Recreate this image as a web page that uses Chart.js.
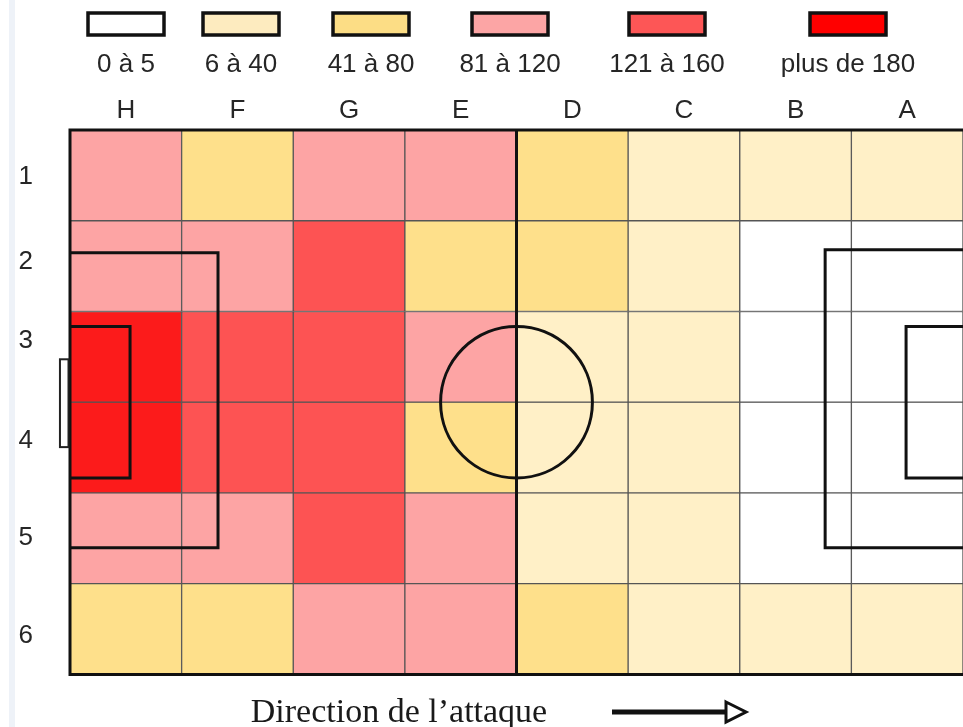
<!DOCTYPE html>
<html>
<head>
<meta charset="utf-8">
<script src="https://cdn.jsdelivr.net/npm/chart.js@4.4.1/dist/chart.umd.min.js"></script>
<style>
html,body{margin:0;padding:0;background:#ffffff;}
#wrap{position:relative;width:963px;height:727px;}
</style>
</head>
<body>
<div id="wrap"><canvas id="c"></canvas></div>
<script>
// ---- data ----
const columns = ['H','F','G','E','D','C','B','A'];
const rowLabels = ['1','2','3','4','5','6'];
const legendLabels = ['0 à 5','6 à 40','41 à 80','81 à 120','121 à 160','plus de 180'];
// class index (0..5) of each cell, per row, columns H..A
const row1 = [3,2,3,3,2,1,1,1];
const row2 = [3,3,4,2,2,1,0,0];
const row3 = [5,4,4,3,1,1,0,0];
const row4 = [5,4,4,2,1,1,0,0];
const row5 = [3,3,4,3,1,1,0,0];
const row6 = [2,2,3,3,2,1,1,1];
const xTitle = 'Direction de l\u2019attaque';

// ---- styles / layout ----
const levelColors = ['#ffffff','#fff0c7','#fee08b','#fda4a4','#fd5353','#fc1b1b'];
const swatchColors = ['#ffffff','#fdebbf','#fcdd85','#fca5a5','#fd5656','#ff0000'];
const legendCenters = [126,241,371,510,667,848];
const rowLabelOffsets = [0.02,-0.05,-0.18,-0.07,0.0,0.07];
const textColor = '#262626';

const rowLevels = [row1,row2,row3,row4,row5,row6];

const datasets = rowLevels.map((lv, ri) => ({
  label: 'Ligne ' + rowLabels[ri],
  data: lv.map(() => [ri, ri + 1]),
  backgroundColor: lv.map(l => levelColors[l]),
  borderColor: '#555555',
  borderWidth: 1,
  borderSkipped: false,
  barPercentage: 1,
  categoryPercentage: 1,
  grouped: false
}));

const pitchPlugin = {
  id: 'pitch',
  beforeDraw(chart) {
    const ctx = chart.ctx;
    ctx.save();
    ctx.fillStyle = '#eef2f8';
    ctx.fillRect(9, 0, 6, chart.height);
    ctx.restore();
  },
  afterDatasetsDraw(chart) {
    const {ctx, chartArea: a, scales: {x, y}} = chart;
    const px = u => x.getPixelForValue(u - 0.5);
    const py = v => y.getPixelForValue(v);
    ctx.save();
    ctx.strokeStyle = '#111111';
    ctx.lineWidth = 3;
    ctx.lineJoin = 'miter';
    const poly = pts => { ctx.beginPath(); pts.forEach((p,i)=> i? ctx.lineTo(px(p[0]),py(p[1])) : ctx.moveTo(px(p[0]),py(p[1]))); ctx.stroke(); };
    // left penalty box and goal area
    poly([[0,1.352],[1.326,1.352],[1.326,4.604],[0,4.604]]);
    poly([[0,2.165],[0.538,2.165],[0.538,3.835],[0,3.835]]);
    // right penalty box and goal area
    poly([[8.2,1.32],[6.765,1.32],[6.765,4.604],[8.2,4.604]]);
    poly([[8.2,2.165],[7.49,2.165],[7.49,3.835],[8.2,3.835]]);
    // centre circle
    ctx.beginPath();
    ctx.ellipse(px(4), py(3), Math.abs(px(4.68)-px(4)), Math.abs(py(3.835)-py(3)), 0, 0, Math.PI*2);
    ctx.stroke();
    // centre line
    ctx.beginPath(); ctx.moveTo(px(4), a.top); ctx.lineTo(px(4), a.bottom); ctx.stroke();
    // outer border
    ctx.beginPath();
    ctx.moveTo(a.right + 5, a.top); ctx.lineTo(a.left, a.top);
    ctx.lineTo(a.left, a.bottom); ctx.lineTo(a.right + 5, a.bottom);
    ctx.stroke();
    // goal
    ctx.lineWidth = 2;
    ctx.fillStyle = '#ffffff';
    const gx = px(-0.09), gy = py(2.527), gw = px(0) - gx - 1.5, gh = py(3.495) - gy;
    ctx.fillRect(gx, gy, gw, gh);
    ctx.strokeStyle = '#222222';
    ctx.strokeRect(gx, gy, gw, gh);
    ctx.restore();
  },
  afterDraw(chart) {
    const ctx = chart.ctx;
    ctx.save();
    // legend
    legendLabels.forEach((lab, i) => {
      const cx = legendCenters[i];
      ctx.fillStyle = swatchColors[i];
      ctx.fillRect(cx - 38, 13, 76, 22);
      ctx.lineWidth = 3.5;
      ctx.strokeStyle = '#111111';
      ctx.strokeRect(cx - 38, 13, 76, 22);
      ctx.fillStyle = textColor;
      ctx.font = '26px "Liberation Sans", Arial, sans-serif';
      ctx.textAlign = 'center';
      ctx.textBaseline = 'alphabetic';
      ctx.fillText(lab, cx, 72);
    });
    // bottom title
    ctx.font = '34px "Liberation Serif", "Times New Roman", serif';
    ctx.fillStyle = '#1a1a1a';
    ctx.textAlign = 'center';
    ctx.textBaseline = 'alphabetic';
    ctx.fillText(xTitle, 399, 722);
    // arrow
    ctx.fillStyle = '#111111';
    ctx.fillRect(612, 709.5, 114, 5);
    ctx.beginPath();
    ctx.moveTo(726, 702); ctx.lineTo(746, 712); ctx.lineTo(726, 722); ctx.closePath();
    ctx.fillStyle = '#ffffff'; ctx.fill();
    ctx.lineWidth = 3; ctx.strokeStyle = '#111111'; ctx.lineJoin = 'miter'; ctx.stroke();
    ctx.restore();
  }
};

new Chart(document.getElementById('c'), {
  type: 'bar',
  data: { labels: columns, datasets },
  options: {
    responsive: true,
    maintainAspectRatio: false,
    animation: false,
    devicePixelRatio: 1,
    layout: { padding: { top: 90, left: 0, right: 0, bottom: 51 } },
    plugins: { legend: { display: false }, tooltip: { enabled: false }, title: { display: false } },
    scales: {
      x: {
        type: 'category',
        position: 'top',
        offset: true,
        grid: { display: false, drawTicks: false },
        border: { display: false },
        ticks: { color: textColor, font: { family: '"Liberation Sans", Arial, sans-serif', size: 26 }, padding: 4, maxRotation: 0, autoSkip: false },
        afterFit: s => { s.height = 40; }
      },
      y: {
        type: 'linear',
        min: 0, max: 6,
        reverse: true,
        grid: { display: false, drawTicks: false },
        border: { display: false },
        afterBuildTicks: s => { s.ticks = rowLabels.map((_, i) => ({ value: i + 0.5 + rowLabelOffsets[i] })); },
        ticks: {
          autoSkip: false,
          color: textColor,
          font: { family: '"Liberation Sans", Arial, sans-serif', size: 26 },
          padding: 37,
          callback: v => rowLabels[Math.floor(v)]
        },
        afterFit: s => { s.width = 70; }
      }
    }
  },
  plugins: [pitchPlugin]
});
</script>
</body>
</html>
